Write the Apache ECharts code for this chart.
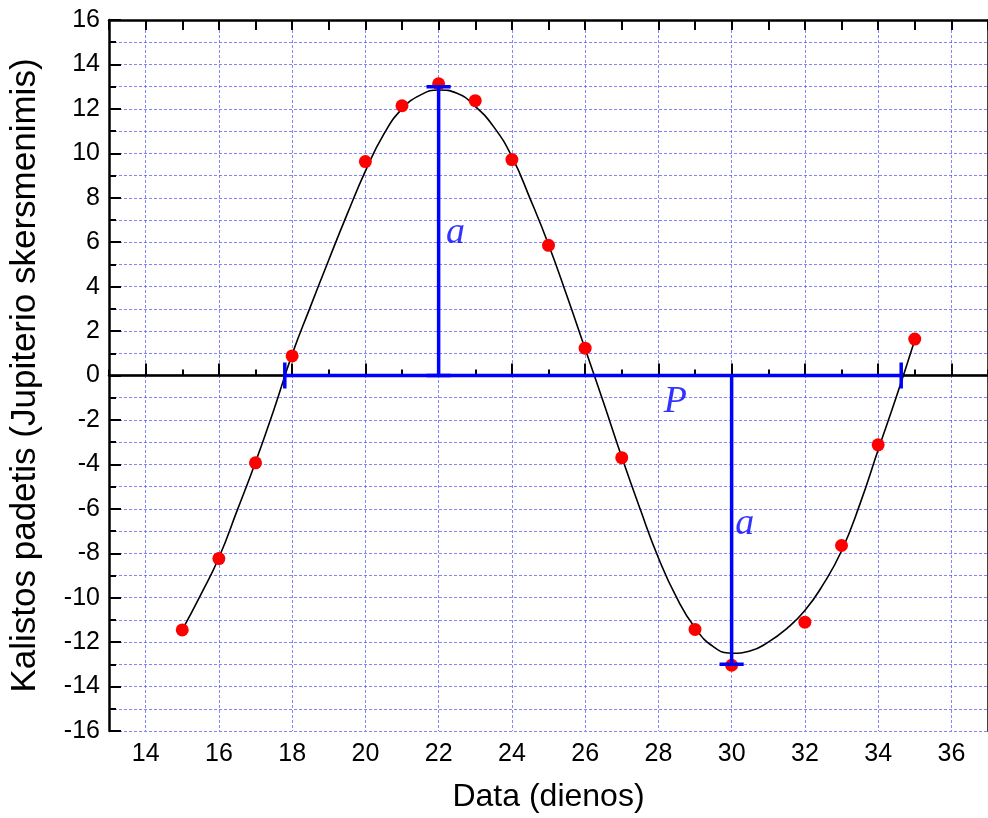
<!DOCTYPE html>
<html>
<head>
<meta charset="utf-8">
<script src="https://cdn.jsdelivr.net/npm/echarts@6/dist/echarts.min.js"></script>
<style>
  html, body { margin: 0; padding: 0; background: #fff; }
  #chart { width: 988px; height: 818px; }
</style>
</head>
<body>
<div id="chart"></div>
<script>
// matavimai: diena ir Kalistos padetis
const days = [15, 16, 17, 18, 20, 21, 22, 23, 24, 25, 26, 27, 29, 30, 32, 33, 34, 35];
const positions = [-11.45, -8.24, -3.93, 0.88, 9.63, 12.14, 13.13, 12.37, 9.72, 5.86, 1.23, -3.70, -11.43, -13.04, -11.10, -7.65, -3.12, 1.64];

// aproksimuojanti kreive (nuskaityta nuo paveikslo)
const fitX = [15, 15.5, 16, 16.5, 17, 17.5, 18, 18.5, 19, 19.5, 20, 20.5, 21, 21.5, 22, 22.5, 23, 23.5, 24, 24.5, 25, 25.5, 26, 26.5, 27, 27.5, 28, 28.5, 29, 29.5, 30, 30.5, 31, 31.5, 32, 32.5, 33, 33.5, 34, 34.5, 35];
const fitY = [-11.45, -9.88, -8.2, -6.07, -3.9, -1.55, 0.95, 3.1, 5.2, 7.25, 9.2, 10.85, 12.0, 12.62, 12.85, 12.7, 12.11, 11.2, 9.85, 7.95, 5.9, 3.6, 1.2, -1.2, -3.67, -6.0, -8.2, -10.0, -11.35, -12.2, -12.5, -12.4, -12.0, -11.4, -10.58, -9.4, -7.9, -5.8, -3.35, -0.95, 1.6];

// asiu zymes
const xTicks = [14, 16, 18, 20, 22, 24, 26, 28, 30, 32, 34, 36];
const zeroLineX = [13, 37];

// periodo ir amplitudes zymejimas
const periodX = [17.8, 34.63];
const peakX = 22, peakY = 13;
const troughX = 30, troughY = -13;
const capHalf = 0.33;
const endTickHalf = 0.58;
const textLabels = [
    { text: 'a', x: 22.2, y: 6.4 },
    { text: 'a', x: 30.1, y: -6.7 },
    { text: 'P', x: 28.15, y: -1.2 }
];

function seg(x1, y1, x2, y2) {
    return [[x1, y1], [x2, y2]];
}

const blueSegments = [
    seg(periodX[0], 0, periodX[1], 0),
    seg(periodX[0], -endTickHalf, periodX[0], endTickHalf),
    seg(periodX[1], -endTickHalf, periodX[1], endTickHalf),
    seg(peakX, 0, peakX, peakY),
    seg(peakX - capHalf, peakY, peakX + capHalf, peakY),
    seg(peakX - capHalf, 0, peakX + capHalf, 0),
    seg(troughX, 0, troughX, troughY),
    seg(troughX - capHalf, troughY, troughX + capHalf, troughY)
];

var chartDom = document.getElementById('chart');
var myChart = echarts.init(chartDom);

var gridLine = { show: true, lineStyle: { color: 'rgba(80,80,255,0.7)', width: 1, type: [3, 2] } };
var fontFam = '"Liberation Sans", Arial, sans-serif';

var series = [
    {
        name: 'nulis',
        type: 'line',
        data: zeroLineX.map(x => [x, 0]),
        showSymbol: false,
        symbol: 'none',
        silent: true,
        lineStyle: { color: '#000', width: 1.5 },
        z: 1
    },
    {
        name: 'kreive',
        type: 'line',
        smooth: 0.5,
        showSymbol: false,
        symbol: 'none',
        data: fitX.map((x, i) => [x, fitY[i]]),
        lineStyle: { color: '#000', width: 1.6 },
        z: 2
    },
    {
        name: 'matavimai',
        type: 'scatter',
        data: days.map((d, i) => [d, positions[i]]),
        symbolSize: 13,
        itemStyle: { color: '#ff0000', opacity: 1 },
        z: 3
    }
];

blueSegments.forEach(s => {
    series.push({
        type: 'line',
        data: s,
        showSymbol: false,
        symbol: 'none',
        lineStyle: { color: '#0000ff', width: 3.5 },
        z: 4
    });
});

series.push({
    type: 'scatter',
    symbolSize: 0,
    data: textLabels.map(t => ({ value: [t.x, t.y], name: t.text })),
    label: {
        show: true,
        position: 'right',
        distance: 0,
        formatter: p => p.name,
        color: '#0000ff',
        fontFamily: '"Liberation Serif", "Times New Roman", serif',
        fontStyle: 'italic',
        fontSize: 38
    },
    z: 5
});

var option = {
    animation: false,
    backgroundColor: '#fff',
    grid: { left: 106, top: 20, width: 892, height: 713 },
    xAxis: [
        {
            type: 'value',
            min: 13,
            max: 37,
            interval: 1,
            position: 'bottom',
            name: 'Data (dienos)',
            nameLocation: 'middle',
            nameGap: 50,
            nameTextStyle: { fontSize: 32, color: '#000', fontFamily: fontFam },
            axisLine: { show: true, lineStyle: { color: '#000', width: 2.5 } },
            axisTick: { show: true, inside: true, length: 12, customValues: xTicks, lineStyle: { color: '#000', width: 2 } },
            axisLabel: { show: true, customValues: xTicks, fontSize: 25, color: '#000', fontFamily: fontFam, margin: 11 },
            splitLine: gridLine
        },
        {
            type: 'value',
            min: 13,
            max: 37,
            interval: 1,
            position: 'bottom',
            axisLine: { show: false },
            axisTick: { show: true, inside: true, length: 6, lineStyle: { color: '#000', width: 2 } },
            axisLabel: { show: false },
            splitLine: { show: false }
        },
        {
            type: 'value',
            min: 13,
            max: 37,
            interval: 1,
            position: 'top',
            axisLine: { show: true, lineStyle: { color: '#000', width: 2.5 } },
            axisTick: { show: true, inside: true, length: 10, lineStyle: { color: '#000', width: 2 } },
            axisLabel: { show: false },
            splitLine: { show: false }
        }
    ],
    yAxis: [
        {
            type: 'value',
            min: -16,
            max: 16,
            interval: 2,
            position: 'left',
            name: 'Kalistos padetis (Jupiterio skersmenimis)',
            nameLocation: 'middle',
            nameGap: 66,
            nameTextStyle: { fontSize: 35, color: '#000', fontFamily: fontFam },
            axisLine: { show: true, lineStyle: { color: '#000', width: 2.5 } },
            axisTick: { show: true, inside: true, length: 12, lineStyle: { color: '#000', width: 2 } },
            minorTick: { show: true, splitNumber: 2, length: 7, lineStyle: { color: '#000', width: 2 } },
            axisLabel: { show: true, fontSize: 25, color: '#000', fontFamily: fontFam, margin: 9 },
            splitLine: gridLine,
            minorSplitLine: gridLine
        },
        {
            type: 'value',
            min: -16,
            max: 16,
            interval: 2,
            position: 'right',
            axisLine: { show: true, lineStyle: { color: '#000', width: 2.5 } },
            axisTick: { show: false },
            axisLabel: { show: false },
            splitLine: { show: false }
        }
    ],
    series: series
};

myChart.setOption(option);
</script>
</body>
</html>
